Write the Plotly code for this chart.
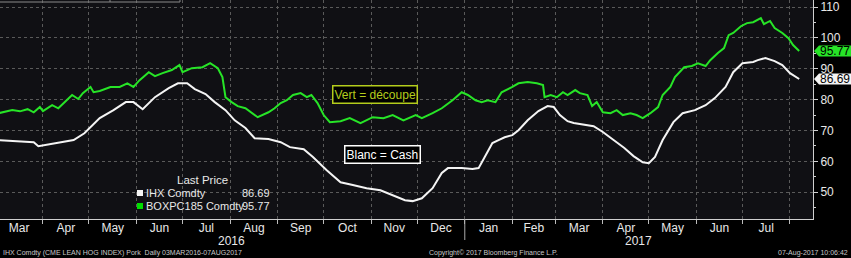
import plotly.graph_objects as go
import datetime as _dt

# ---------------- data ----------------
ihx_dates = [
    "2016-03-03", "2016-03-14", "2016-03-26", "2016-03-29", "2016-04-12", "2016-04-21",
    "2016-04-28", "2016-05-08", "2016-05-17", "2016-05-25", "2016-05-30", "2016-06-05",
    "2016-06-13", "2016-06-22", "2016-06-28", "2016-07-04", "2016-07-09", "2016-07-16",
    "2016-07-22", "2016-07-29", "2016-08-04", "2016-08-11", "2016-08-17", "2016-08-26",
    "2016-09-03", "2016-09-09", "2016-09-18", "2016-09-24", "2016-10-03", "2016-10-12",
    "2016-10-20", "2016-10-29", "2016-11-07", "2016-11-15", "2016-11-23", "2016-11-28",
    "2016-12-04", "2016-12-11", "2016-12-17", "2016-12-21", "2016-12-30", "2017-01-06",
    "2017-01-10", "2017-01-14", "2017-01-19", "2017-01-23", "2017-01-27", "2017-02-01",
    "2017-02-05", "2017-02-11", "2017-02-18", "2017-02-24", "2017-02-28", "2017-03-04",
    "2017-03-09", "2017-03-13", "2017-03-19", "2017-03-26", "2017-04-01", "2017-04-08",
    "2017-04-15", "2017-04-21", "2017-04-27", "2017-05-01", "2017-05-05", "2017-05-10",
    "2017-05-17", "2017-05-23", "2017-05-31", "2017-06-07", "2017-06-13", "2017-06-20",
    "2017-06-25", "2017-07-01", "2017-07-08", "2017-07-11", "2017-07-16", "2017-07-22",
    "2017-07-27", "2017-08-01", "2017-08-07",
]
ihx_values = [
    66.9, 66.6, 66.2, 64.9, 66.2, 66.9,
    69.1, 74.0, 76.6, 79.2, 79.2, 76.9,
    80.8, 83.7, 85.3, 85.3, 83.4, 81.8,
    79.2, 76.6, 73.3, 70.8, 67.5, 67.2,
    66.2, 64.6, 63.9, 61.4, 57.1, 53.2,
    52.3, 51.3, 50.6, 49.0, 47.4, 47.1,
    48.0, 51.3, 56.2, 57.8, 57.8, 57.5,
    57.8, 61.4, 65.9, 66.9, 67.8, 68.5,
    70.1, 73.3, 76.3, 77.9, 77.6, 75.0,
    73.0, 72.4, 72.0, 71.4, 69.5, 66.9,
    64.3, 61.7, 59.7, 59.4, 61.4, 66.9,
    72.7, 75.6, 76.6, 78.2, 80.5, 84.1,
    88.9, 91.8, 92.2, 92.8, 93.5, 92.5,
    91.2, 88.6, 86.69,
]

boxpc_dates = [
    "2016-03-03", "2016-03-12", "2016-03-17", "2016-03-22", "2016-03-26", "2016-03-30",
    "2016-04-01", "2016-04-07", "2016-04-11", "2016-04-15", "2016-04-20", "2016-04-24",
    "2016-04-27", "2016-05-02", "2016-05-04", "2016-05-08", "2016-05-15", "2016-05-21",
    "2016-05-26", "2016-05-30", "2016-06-03", "2016-06-09", "2016-06-13", "2016-06-18",
    "2016-06-24", "2016-06-29", "2016-07-01", "2016-07-07", "2016-07-14", "2016-07-19",
    "2016-07-24", "2016-07-27", "2016-07-29", "2016-08-02", "2016-08-06", "2016-08-11",
    "2016-08-15", "2016-08-19", "2016-08-26", "2016-08-30", "2016-09-03", "2016-09-07",
    "2016-09-11", "2016-09-16", "2016-09-20", "2016-09-23", "2016-09-27", "2016-10-01",
    "2016-10-05", "2016-10-12", "2016-10-18", "2016-10-25", "2016-11-02", "2016-11-09",
    "2016-11-15", "2016-11-22", "2016-11-30", "2016-12-04", "2016-12-11", "2016-12-17",
    "2016-12-24", "2016-12-30", "2017-01-03", "2017-01-08", "2017-01-12", "2017-01-16",
    "2017-01-21", "2017-01-25", "2017-02-01", "2017-02-05", "2017-02-11", "2017-02-17",
    "2017-02-21", "2017-02-22", "2017-02-26", "2017-03-02", "2017-03-06", "2017-03-09",
    "2017-03-14", "2017-03-17", "2017-03-22", "2017-03-25", "2017-03-28", "2017-04-01",
    "2017-04-06", "2017-04-10", "2017-04-14", "2017-04-19", "2017-04-23", "2017-04-27",
    "2017-05-02", "2017-05-07", "2017-05-10", "2017-05-15", "2017-05-18", "2017-05-24",
    "2017-05-29", "2017-06-02", "2017-06-07", "2017-06-10", "2017-06-15", "2017-06-19",
    "2017-06-22", "2017-06-25", "2017-06-30", "2017-07-04", "2017-07-08", "2017-07-13",
    "2017-07-15", "2017-07-19", "2017-07-22", "2017-07-27", "2017-07-31", "2017-08-03",
    "2017-08-07",
]
boxpc_values = [
    75.6, 76.6, 76.2, 76.9, 75.9, 77.6,
    76.3, 78.2, 77.2, 79.2, 81.5, 80.2,
    82.1, 84.1, 82.4, 82.8, 84.1, 84.1,
    85.3, 84.1, 86.3, 88.9, 87.6, 88.6,
    89.6, 91.2, 88.9, 90.2, 90.5, 91.8,
    90.2, 87.3, 80.8, 79.2, 77.9, 77.2,
    75.6, 74.3, 75.9, 77.2, 78.9, 79.8,
    81.5, 82.1, 80.8, 81.5, 78.9, 75.0,
    72.7, 73.0, 74.0, 72.4, 74.3, 74.0,
    75.0, 73.3, 75.0, 74.0, 75.6, 77.2,
    79.8, 82.4, 81.5, 79.8, 79.2, 79.8,
    79.2, 82.4, 84.1, 85.3, 85.7, 85.3,
    84.7, 80.8, 81.5, 80.8, 82.4, 81.5,
    83.1, 82.1, 81.5, 77.9, 79.2, 75.9,
    75.6, 76.6, 75.0, 75.6, 75.0, 74.0,
    75.6, 77.6, 81.5, 84.1, 87.3, 90.5,
    90.9, 91.8, 90.9, 92.8, 95.1, 96.7,
    100.9, 101.6, 103.8, 104.8, 105.1, 106.4,
    104.5, 105.5, 103.2, 101.6, 99.9, 97.7,
    95.77,
]

series_names = ["IHX Comdty", "BOXPC185 Comdty"]
y_tick_values = [50, 60, 70, 80, 90, 100, 110]
year_labels = ["2016", "2017"]
footer_left = "IHX Comdty (CME LEAN HOG INDEX) Pork  Daily 03MAR2016-07AUG2017"
footer_mid = "Copyright\u00a9 2017 Bloomberg Finance L.P."
footer_right = "07-Aug-2017 10:06:42"
note_green = "Vert = découpe"
note_white = "Blanc = Cash"

# ---------------- style ----------------
W, H = 851, 258
ML, MR, MT, MB = 0, 38, 0, 39
PW, PH = W - ML - MR, H - MT - MB
X_RANGE = ["2016-03-04", "2017-08-16"]
Y_RANGE = [41.3, 112.3]
WHITE = "#f4f4f4"
GREEN = "#27e427"
FONT = "Liberation Sans"
TXT = "#e8e8e8"

def px(xp):
    return (xp - ML) / PW

def py(yp):
    return (PH - (yp - MT)) / PH

def yv(v):
    return (v - Y_RANGE[0]) / (Y_RANGE[1] - Y_RANGE[0])

fig = go.Figure()
fig.add_trace(go.Scatter(x=boxpc_dates, y=boxpc_values, mode="lines",
                         line=dict(color=GREEN, width=2), name=series_names[1]))
fig.add_trace(go.Scatter(x=ihx_dates, y=ihx_values, mode="lines",
                         line=dict(color=WHITE, width=2), name=series_names[0]))

annotations = []
shapes = []

# last-price tags on the right axis
for val, col in [(ihx_values[-1], WHITE), (boxpc_values[-1], GREEN)]:
    yc = yv(val)
    dh = 5.5 / PH
    x0, xt, x1 = 1.0 + 1 / PW, 1.0 + 6 / PW, 1.0 + 38 / PW
    shapes.append(dict(type="path", xref="paper", yref="paper", layer="above",
                       path=f"M {x0},{yc} L {xt},{yc+dh} L {x1},{yc+dh} L {x1},{yc-dh} L {xt},{yc-dh} Z",
                       fillcolor=col, line=dict(width=0)))
    annotations.append(dict(xref="paper", yref="paper", x=1.0 + 5 / PW, y=yc, xanchor="left",
                            yanchor="middle", text=f"{val:.2f}", showarrow=False,
                            font=dict(family=FONT, size=12, color="#000000")))

# legend block
LEG = 11
annotations.append(dict(xref="paper", yref="paper", x=px(202), y=py(180), text="Last Price",
                        showarrow=False, xanchor="center", yanchor="middle",
                        font=dict(family=FONT, size=11.5, color=TXT)))
for i, (name, vals, col) in enumerate([(series_names[0], ihx_values, WHITE),
                                       (series_names[1], boxpc_values, "#00dd00")]):
    yc = 193 + i * 13
    shapes.append(dict(type="rect", xref="paper", yref="paper",
                       x0=px(137), x1=px(143), y0=py(yc + 3), y1=py(yc - 3),
                       fillcolor=col, line=dict(width=0)))
    annotations.append(dict(xref="paper", yref="paper", x=px(144), y=py(yc), text=name,
                            showarrow=False, xanchor="left", yanchor="middle",
                            font=dict(family=FONT, size=LEG, color=TXT)))
    annotations.append(dict(xref="paper", yref="paper", x=px(272), y=py(yc), text=f"{vals[-1]:.2f}",
                            showarrow=False, xanchor="right", yanchor="middle",
                            font=dict(family=FONT, size=LEG, color=TXT)))

# boxed notes
annotations.append(dict(xref="paper", yref="paper", x=px(375), y=py(94.5), text=note_green,
                        showarrow=False, xanchor="center", yanchor="middle",
                        font=dict(family=FONT, size=12, color="#b4cc1c"),
                        bordercolor="#b4cc1c", borderwidth=1.5, borderpad=1, bgcolor="#000000"))
annotations.append(dict(xref="paper", yref="paper", x=px(382), y=py(154.5), text=note_white,
                        showarrow=False, xanchor="center", yanchor="middle",
                        font=dict(family=FONT, size=12, color="#ffffff"),
                        bordercolor="#ffffff", borderwidth=1.5, borderpad=1, bgcolor="#000000"))

# year labels, centred on the visible part of each year
for lab, (a, b) in zip(year_labels, [(X_RANGE[0], "2016-12-31"), ("2017-01-01", X_RANGE[1])]):
    da = _dt.date.fromisoformat(a)
    db = _dt.date.fromisoformat(b)
    mid = da + (db - da) / 2
    annotations.append(dict(xref="x", yref="paper", x=mid.isoformat(), y=py(241), text=lab,
                            showarrow=False, xanchor="center", yanchor="middle",
                            font=dict(family=FONT, size=12, color=TXT)))
# long tick at year boundary
shapes.append(dict(type="line", xref="x", yref="paper", x0="2017-01-01", x1="2017-01-01",
                   y0=0, y1=py(240), line=dict(color="#aaaaaa", width=1)))

# footer
for txt, xp, anc in [(footer_left, 1, "left"), (footer_mid, 493, "center"), (footer_right, 850, "right")]:
    annotations.append(dict(xref="paper", yref="paper", x=px(xp), y=py(253), text=txt,
                            showarrow=False, xanchor=anc, yanchor="middle",
                            font=dict(family=FONT, size=7, color="#c8c8c8")))

# clipped tab at top-left
shapes.append(dict(type="path", xref="paper", yref="paper",
                   path=f"M {px(0)},{py(2)} L {px(180)},{py(2)} L {px(180)},{py(-2)} M {px(110)},{py(2)} L {px(110)},{py(-2)}",
                   line=dict(color="#8a8a8a", width=1)))

fig.update_layout(
    width=W, height=H,
    margin=dict(l=ML, r=MR, t=MT, b=MB),
    paper_bgcolor="#000000", plot_bgcolor="#101014",
    showlegend=False,
    annotations=annotations, shapes=shapes,
    xaxis=dict(type="date", range=X_RANGE, dtick="M1", tick0="2016-03-01",
               tickformat="%b", ticklabelmode="period",
               ticks="outside", ticklen=4, tickcolor="#bbbbbb", ticklabelstandoff=-6,
               showgrid=True, gridcolor="#5a5a5a", griddash="dot", gridwidth=1,
               showline=True, linecolor="#cfcfcf", linewidth=1,
               tickfont=dict(family=FONT, size=12, color=TXT)),
    yaxis=dict(side="right", range=Y_RANGE, tickvals=y_tick_values,
               ticks="outside", ticklen=4, tickcolor="#cfcfcf",
               minor=dict(dtick=5, tick0=0, ticks="outside", ticklen=2, tickcolor="#cfcfcf", showgrid=False),
               showgrid=True, gridcolor="#5a5a5a", griddash="dot", gridwidth=1,
               showline=True, linecolor="#cfcfcf", linewidth=1, zeroline=False,
               tickfont=dict(family=FONT, size=12, color=TXT)),
)

fig.write_html("out.html")
